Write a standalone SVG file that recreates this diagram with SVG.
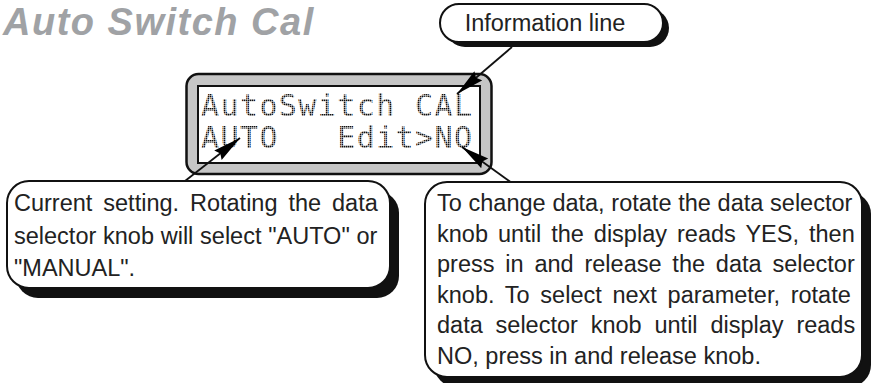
<svg xmlns="http://www.w3.org/2000/svg" width="873" height="383" viewBox="0 0 873 383">
<defs>
<pattern id="dots" width="2" height="2" patternUnits="userSpaceOnUse"><rect x="0" y="0" width="1.5" height="1.5" fill="#111"/></pattern>
<marker id="ah" markerUnits="userSpaceOnUse" markerWidth="30" markerHeight="14" refX="28" refY="7" orient="auto"><path d="M0,1 L28,7 L0,13 L3,7 z" fill="#000"/></marker>
</defs>
<style>
.title{font-family:"Liberation Sans",Arial,sans-serif;font-weight:bold;font-style:italic;font-size:38px;letter-spacing:1.5px;fill:#a0a2a5}
.txt{font-family:"Liberation Sans",Arial,sans-serif;font-size:23.5px;fill:#222}
.lcd{font-family:"DejaVu Sans Mono",monospace;font-size:30px;letter-spacing:1.4px;fill:url(#dots);white-space:pre}
.box{fill:#fff;stroke:#111;stroke-width:2}
.shadow{fill:#111}
.conn{stroke:#111;stroke-width:1.8;fill:none;marker-end:url(#ah)}
</style>
<rect width="873" height="383" fill="#fff"/>
<text class="title" x="3" y="35">Auto Switch Cal</text>

<g id="lcd">
<rect x="186.5" y="74" width="305" height="100" rx="12" fill="#c6c6c6" stroke="#111" stroke-width="2.5"/>
<rect x="198" y="86" width="282" height="77" fill="#fff" stroke="#111" stroke-width="2"/>
<text class="lcd" x="201" y="116" xml:space="preserve">AutoSwitch CAL</text>
<text class="lcd" x="201" y="148" xml:space="preserve">AUTO   Edit&gt;NO</text>
</g>

<g id="connectors">
<line class="conn" x1="512" y1="47" x2="457" y2="94"/>
<line class="conn" x1="185" y1="181" x2="240" y2="138"/>
<line class="conn" x1="512" y1="183" x2="462" y2="147"/>
</g>

<g id="info">
<rect class="shadow" x="446" y="9" width="223" height="38" rx="19"/>
<rect class="box" x="440" y="4" width="223" height="38" rx="19"/>
<text class="txt" x="545" y="31" text-anchor="middle">Information line</text>
</g>

<g id="current">
<rect class="shadow" x="16" y="191" width="383" height="107" rx="22"/>
<rect class="box" x="7" y="181" width="383" height="107" rx="22"/>
<text class="txt" x="14" y="211" word-spacing="4.4">Current setting. Rotating the data</text>
<text class="txt" x="14" y="243.5" word-spacing="0.2">selector knob will select "AUTO" or</text>
<text class="txt" x="14" y="276">"MANUAL".</text>
</g>

<g id="change">
<rect class="shadow" x="434" y="192" width="437" height="195" rx="22"/>
<rect class="box" x="425" y="182" width="437" height="195" rx="22"/>
<text class="txt" x="437" y="211" word-spacing="0.2">To change data, rotate the data selector</text>
<text class="txt" x="437" y="241.6" word-spacing="3.5">knob until the display reads YES, then</text>
<text class="txt" x="437" y="272.2" word-spacing="4.3">press in and release the data selector</text>
<text class="txt" x="437" y="302.8" word-spacing="4.2">knob. To select next parameter, rotate</text>
<text class="txt" x="437" y="333.4" word-spacing="6.3">data selector knob until display reads</text>
<text class="txt" x="437" y="364">NO, press in and release knob.</text>
</g>
</svg>
